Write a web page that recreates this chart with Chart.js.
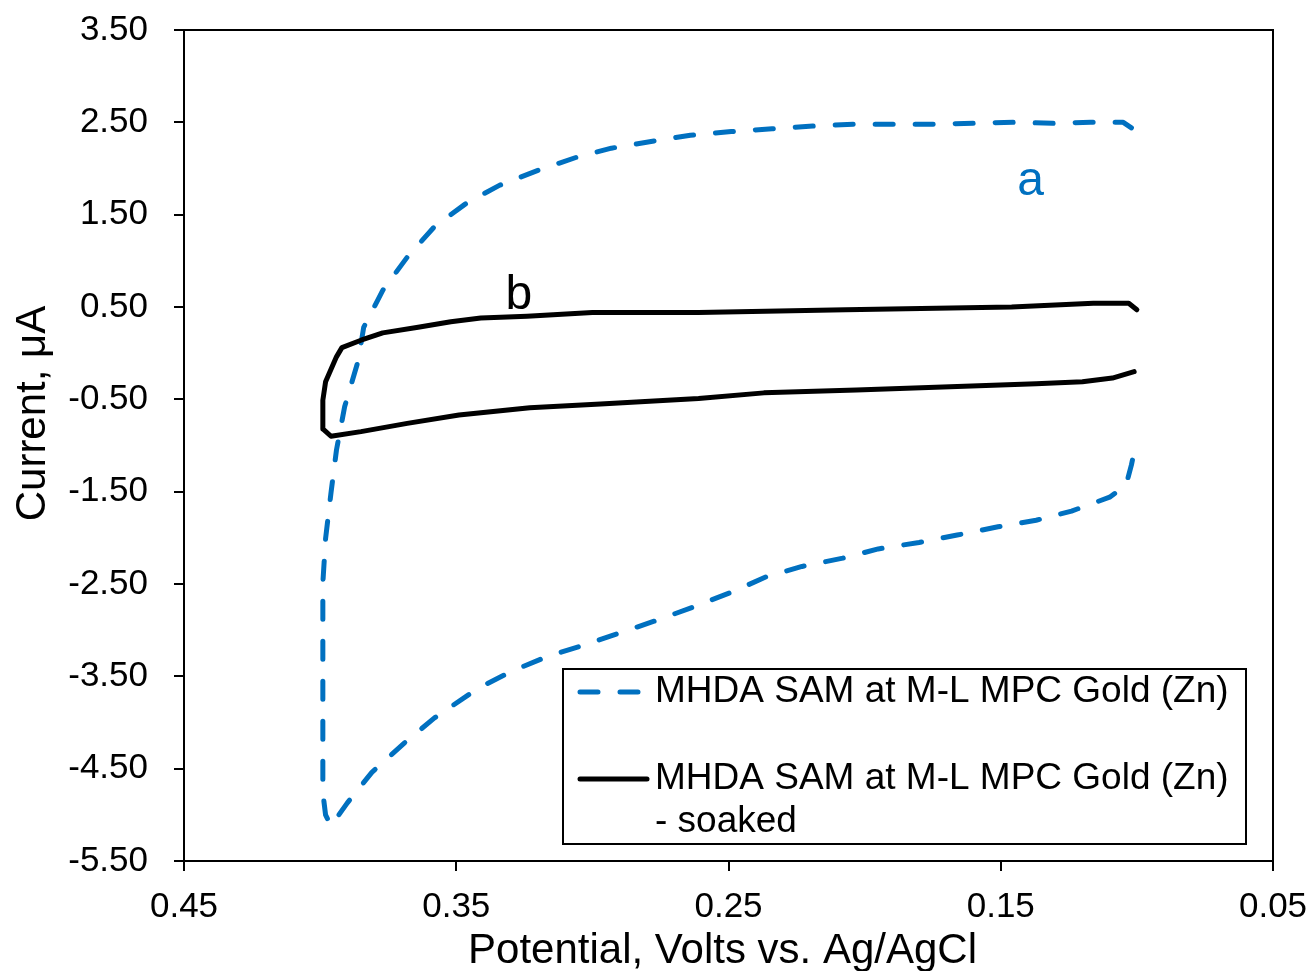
<!DOCTYPE html>
<html>
<head>
<meta charset="utf-8">
<title>Cyclic voltammogram</title>
<script src="https://cdn.jsdelivr.net/npm/chart.js@4.4.1/dist/chart.umd.min.js"></script>
<style>
  html, body { margin: 0; padding: 0; background: #fff; }
  #wrap { width: 1312px; height: 971px; }
</style>
</head>
<body>
<div id="wrap"><canvas id="cv" width="1312" height="971"></canvas></div>
<script>
// series a - dashed blue (potential in V, current in uA)
const seriesA_V = [0.102, 0.105, 0.117, 0.131, 0.145, 0.160, 0.175, 0.190, 0.204, 0.219,
  0.234, 0.249, 0.264, 0.279, 0.293, 0.306, 0.320, 0.334, 0.346, 0.358,
  0.368, 0.377, 0.384, 0.386, 0.391, 0.394, 0.396, 0.398, 0.399, 0.399,
  0.399, 0.399, 0.399, 0.399, 0.398, 0.396, 0.390, 0.381, 0.369, 0.358,
  0.342, 0.330, 0.317, 0.303, 0.290, 0.276, 0.263, 0.249, 0.236, 0.223,
  0.208, 0.195, 0.180, 0.166, 0.151, 0.137, 0.124, 0.110, 0.104, 0.102, 0.101];
const seriesA_I = [2.44, 2.50, 2.50, 2.49, 2.50, 2.49, 2.48, 2.48, 2.48, 2.46,
  2.43, 2.40, 2.36, 2.29, 2.22, 2.12, 1.98, 1.82, 1.63, 1.37,
  1.04, 0.68, 0.28, -0.08, -0.58, -1.05, -1.51, -2.01, -2.49, -2.97,
  -3.40, -3.83, -4.41, -4.76, -5.00, -5.12, -4.87, -4.54, -4.22, -3.95,
  -3.63, -3.45, -3.29, -3.16, -3.03, -2.89, -2.75, -2.59, -2.42, -2.31,
  -2.22, -2.12, -2.05, -1.97, -1.88, -1.81, -1.71, -1.56, -1.43, -1.21, -1.07];

// series b - solid black (soaked)
const seriesB_V = [0.100, 0.103, 0.116, 0.146, 0.207, 0.261, 0.300, 0.324, 0.341, 0.352,
  0.364, 0.377, 0.385, 0.392, 0.394, 0.398, 0.399, 0.399, 0.396, 0.385,
  0.368, 0.349, 0.323, 0.297, 0.261, 0.237, 0.203, 0.166, 0.137, 0.120, 0.109, 0.101];
const seriesB_I = [0.47, 0.54, 0.54, 0.50, 0.47, 0.44, 0.44, 0.40, 0.38, 0.34,
  0.28, 0.22, 0.14, 0.06, -0.04, -0.31, -0.51, -0.82, -0.90, -0.85,
  -0.76, -0.67, -0.59, -0.55, -0.49, -0.43, -0.40, -0.36, -0.33, -0.31, -0.27, -0.20];

const seriesNames = ['MHDA SAM at M-L MPC Gold (Zn)', 'MHDA SAM at M-L MPC Gold (Zn) - soaked'];
const legendLines = [['MHDA SAM at M-L MPC Gold (Zn)'], ['MHDA SAM at M-L MPC Gold (Zn)', '- soaked']];
const curveTags = ['a', 'b'];
const curveTagV = [0.139, 0.327];
const curveTagI = [1.71, 0.48];

const xTicks = [0.45, 0.35, 0.25, 0.15, 0.05];
const yTicks = [3.5, 2.5, 1.5, 0.5, -0.5, -1.5, -2.5, -3.5, -4.5, -5.5];
const xTitle = 'Potential, Volts vs. Ag/AgCl';
const yTitle = 'Current, \u03bcA';

const FONT = '"Liberation Sans", Arial, sans-serif';
Chart.defaults.font.family = FONT;
Chart.defaults.color = '#000';

const toPoints = (xs, ys) => xs.map((v, i) => ({ x: v, y: ys[i] }));

// frame, axis titles, curve tags and the boxed legend
const extras = {
  id: 'extras',
  afterDraw(chart) {
    const { ctx, chartArea: a, scales } = chart;
    ctx.save();
    ctx.strokeStyle = '#000';
    ctx.lineWidth = 2;
    ctx.strokeRect(a.left, a.top, a.right - a.left, a.bottom - a.top);

    // axis titles
    ctx.fillStyle = '#000';
    ctx.font = '42px ' + FONT;
    ctx.textAlign = 'center';
    ctx.textBaseline = 'alphabetic';
    ctx.fillText(xTitle, (a.left + a.right) / 2 - 6, a.bottom + 102);
    ctx.save();
    ctx.translate(a.left - 139, (a.top + a.bottom) / 2 - 32);
    ctx.rotate(-Math.PI / 2);
    ctx.fillText(yTitle, 0, 0);
    ctx.restore();

    // a / b tags next to the curves
    ctx.font = '48px ' + FONT;
    curveTags.forEach((t, i) => {
      ctx.fillStyle = chart.data.datasets[i].borderColor;
      ctx.fillText(t, scales.x.getPixelForValue(curveTagV[i]), scales.y.getPixelForValue(curveTagI[i]));
    });

    // legend box
    const bw = 683, bh = 175;
    const bx = a.right - 27 - bw, by = a.bottom - 17 - bh;
    ctx.fillStyle = '#fff';
    ctx.fillRect(bx, by, bw, bh);
    ctx.strokeStyle = '#000';
    ctx.lineWidth = 2;
    ctx.strokeRect(bx, by, bw, bh);
    const rows = [by + 23, by + 110];
    ctx.font = '37px ' + FONT;
    ctx.textAlign = 'left';
    ctx.textBaseline = 'middle';
    chart.data.datasets.forEach((ds, i) => {
      ctx.save();
      ctx.strokeStyle = ds.borderColor;
      ctx.lineWidth = ds.borderWidth;
      ctx.lineCap = ds.borderCapStyle || 'butt';
      ctx.setLineDash(ds.borderDash || []);
      ctx.beginPath();
      ctx.moveTo(bx + 17, rows[i]);
      ctx.lineTo(bx + 84, rows[i]);
      ctx.stroke();
      ctx.restore();
      ctx.fillStyle = '#000';
      legendLines[i].forEach((ln, k) => ctx.fillText(ln, bx + 92, rows[i] + k * 43));
    });
    ctx.restore();
  }
};

const axisCommon = {
  type: 'linear',
  border: { display: true, color: '#000', width: 2 },
  grid: { drawOnChartArea: false, drawTicks: true, tickLength: 10, color: '#000', lineWidth: 2 },
  title: { display: false }
};

new Chart(document.getElementById('cv').getContext('2d'), {
  type: 'scatter',
  data: {
    datasets: [{
      label: seriesNames[0],
      data: toPoints(seriesA_V, seriesA_I),
      showLine: true,
      borderColor: '#0070C0',
      borderWidth: 5,
      borderDash: [18, 22],
      borderCapStyle: 'round',
      borderJoinStyle: 'round',
      pointRadius: 0,
      tension: 0,
      order: 2
    }, {
      label: seriesNames[1],
      data: toPoints(seriesB_V, seriesB_I),
      showLine: true,
      borderColor: '#000000',
      borderWidth: 5,
      borderCapStyle: 'round',
      borderJoinStyle: 'round',
      pointRadius: 0,
      tension: 0,
      order: 1
    }]
  },
  options: {
    responsive: false,
    animation: false,
    devicePixelRatio: 1,
    layout: { padding: { top: 30, right: 39, left: 0, bottom: 0 } },
    plugins: {
      legend: { display: false },
      tooltip: { enabled: false }
    },
    scales: {
      x: Object.assign({}, axisCommon, {
        min: 0.05,
        max: 0.45,
        reverse: true,
        afterBuildTicks: axis => { axis.ticks = xTicks.map(v => ({ value: v })); },
        afterFit: axis => {
          axis.height = 110;
          axis.paddingLeft = 0;
          axis.paddingRight = 0;
        },
        ticks: {
          autoSkip: false, maxRotation: 0, padding: 15,
          font: { size: 35 }, color: '#000',
          callback: v => Number(v).toFixed(2)
        }
      }),
      y: Object.assign({}, axisCommon, {
        min: -5.5,
        max: 3.5,
        afterBuildTicks: axis => { axis.ticks = yTicks.map(v => ({ value: v })); },
        afterFit: axis => {
          axis.width = 184;
          axis.paddingTop = 0;
          axis.paddingBottom = 0;
        },
        ticks: {
          autoSkip: false, padding: 26,
          font: { size: 35 }, color: '#000',
          callback: v => Number(v).toFixed(2)
        }
      })
    }
  },
  plugins: [extras]
});
</script>
</body>
</html>
